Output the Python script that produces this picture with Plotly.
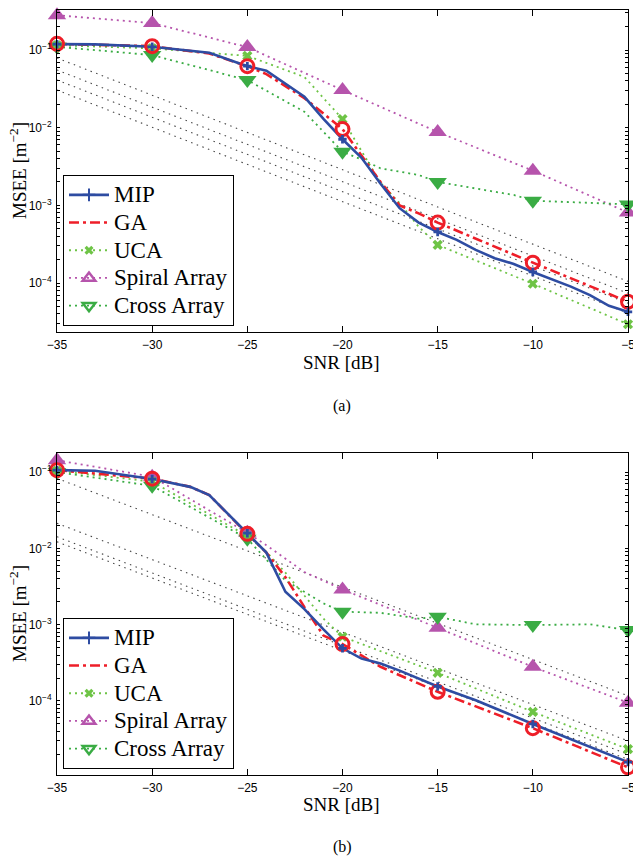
import math
import plotly.graph_objects as go

# ---------------- data ----------------
snr_ticks = [-35, -30, -25, -20, -15, -10, -5]
decade_ticks = [1e-5, 1e-4, 1e-3, 1e-2, 1e-1]
decade_text = ["10<sup>−5</sup>", "10<sup>−4</sup>", "10<sup>−3</sup>", "10<sup>−2</sup>", "10<sup>−1</sup>"]
minor_ticks = [k * d for d in decade_ticks for k in range(2, 10)]

# panel (a)
mip_a_snr = [-35, -33, -30, -27, -25, -24, -22, -21, -20, -19, -18, -17, -16, -15, -14, -13, -12, -11, -10, -9, -8, -7, -6, -5]
mip_a = [0.119, 0.118, 0.11, 0.092, 0.062, 0.054, 0.025, 0.013, 0.0071, 0.0041, 0.0019, 0.00092, 0.0006, 0.000455,
         0.00036, 0.000267, 0.000209, 0.000176, 0.000139, 0.000112, 0.00009, 0.00007, 0.000051, 0.0000426]
ga_a_snr = [-35, -30, -27, -25, -24, -22, -20, -19, -18, -17, -16, -15, -10, -5]
ga_a = [0.12, 0.112, 0.09, 0.062, 0.049, 0.024, 0.0096, 0.0043, 0.0020, 0.0010, 0.00079, 0.0006, 0.000183, 0.0000575]
uca_a_snr = [-35, -30, -25, -22, -20, -18, -17, -16, -15, -10, -5]
uca_a = [0.115, 0.105, 0.084, 0.045, 0.0129, 0.00195, 0.00107, 0.00053, 0.00031, 0.000098, 0.0000295]
spiral_a_snr = [-35, -30, -25, -20, -15, -10, -5]
spiral_a = [0.28, 0.222, 0.109, 0.0305, 0.0088, 0.0028, 0.00081]
cross_a_snr = [-35, -30, -25, -22, -20, -19, -18, -17, -16, -15, -13, -12, -11, -10, -5]
cross_a = [0.11, 0.086, 0.041, 0.016, 0.0049, 0.0039, 0.003, 0.0027, 0.00246, 0.002, 0.00166, 0.0015, 0.00136,
           0.00115, 0.00103]
bound_snr = [-35, -5]
bounds_a = [[0.0789, 0.000105], [0.0553, 0.000074], [0.0411, 0.000055], [0.0305, 0.000041]]

# panel (b)
mip_b_snr = [-35, -33, -30, -28, -27, -25, -24, -23, -22, -21, -20, -19, -18, -17, -16, -15, -13, -10, -5]
mip_b = [0.106, 0.104, 0.081, 0.064, 0.050, 0.0158, 0.0088, 0.0027, 0.0016, 0.00087, 0.00049, 0.00036, 0.00031,
         0.00025, 0.000195, 0.000155, 0.000102, 0.00005, 0.0000158]
ga_b_snr = [-35, -30, -28, -27, -25, -24, -23, -22, -21, -20, -18, -15, -10, -5]
ga_b = [0.106, 0.082, 0.064, 0.050, 0.0155, 0.0088, 0.0042, 0.0017, 0.00072, 0.000557, 0.00028, 0.000132,
        0.000044, 0.0000135]
uca_b_snr = [-35, -30, -25, -24, -23, -22, -21, -20, -15, -10, -5]
uca_b = [0.104, 0.075, 0.0145, 0.009, 0.0048, 0.0024, 0.0012, 0.000695, 0.000234, 0.000072, 0.0000234]
spiral_b_snr = [-35, -30, -25, -24, -22, -20, -15, -10, -5]
spiral_b = [0.143, 0.087, 0.016, 0.011, 0.0049, 0.0029, 0.00091, 0.00028, 0.000095]
cross_b_snr = [-35, -30, -25, -23, -21, -20, -18, -16, -15, -13, -10, -7, -5]
cross_b = [0.10, 0.066, 0.0134, 0.0038, 0.0019, 0.00148, 0.00143, 0.0012, 0.00127, 0.00101, 0.00099, 0.00101,
           0.00085]
bounds_b = [[0.0826, 0.000117], [0.0213, 0.000030], [0.0142, 0.000020], [0.0122, 0.0000172]]

series_names = ["MIP", "GA", "UCA", "Spiral Array", "Cross Array"]

# ---------------- styles ----------------
BLUE = "rgb(46,76,162)"
RED = "rgb(238,30,40)"
LGREEN = "rgb(110,196,70)"
MAG = "rgb(182,84,172)"
GREEN = "rgb(58,172,68)"

styles = {
    "MIP": dict(line=dict(color=BLUE, width=2.6),
                marker=dict(symbol="cross", size=7, color=BLUE),
                lmarker=dict(symbol="cross-thin", size=9, color=BLUE, line=dict(color=BLUE, width=2)), lmode="lines+markers"),
    "GA": dict(line=dict(color=RED, width=2.6, dash="10px,4px,3px,4px"),
               marker=dict(symbol="circle-open", size=13, color=RED, line=dict(color=RED, width=3)),
               lmarker=None, lmode="lines"),
    "UCA": dict(line=dict(color=LGREEN, width=1.8, dash="2px,4px"),
                marker=dict(symbol="x", size=9, color=LGREEN),
                lmarker=dict(symbol="x", size=8, color=LGREEN), lmode="lines+markers"),
    "Spiral Array": dict(line=dict(color=MAG, width=1.8, dash="2px,4px"),
                         marker=dict(symbol="triangle-up", size=16, color=MAG),
                         lmarker=dict(symbol="triangle-up-open", size=11, color=MAG, line=dict(color=MAG, width=2.5)), lmode="lines+markers"),
    "Cross Array": dict(line=dict(color=GREEN, width=1.8, dash="2px,4px"),
                        marker=dict(symbol="triangle-down", size=16, color=GREEN),
                        lmarker=dict(symbol="triangle-down-open", size=11, color=GREEN, line=dict(color=GREEN, width=2.5)), lmode="lines+markers"),
}

LEG_TEXT_PX = 23

fig = go.Figure()


def add_panel(xa, ya, legend, series, bounds):
    for b in bounds:
        fig.add_trace(go.Scatter(x=bound_snr, y=b, mode="lines", xaxis=xa, yaxis=ya, showlegend=False,
                                 line=dict(color="rgb(70,70,70)", width=1.1, dash="1.5px,4.5px"), hoverinfo="skip"))
    order = ["Spiral Array", "Cross Array", "UCA", "GA", "MIP"]
    for name in order:
        xs, ys = series[name]
        st = styles[name]
        fig.add_trace(go.Scatter(x=xs, y=ys, mode="lines", xaxis=xa, yaxis=ya, showlegend=False, line=st["line"]))
    for name in order:
        xs, ys = series[name]
        st = styles[name]
        mx = [x for x in xs if x % 5 == 0]
        my = [y for x, y in zip(xs, ys) if x % 5 == 0]
        fig.add_trace(go.Scatter(x=mx, y=my, mode="markers", xaxis=xa, yaxis=ya, showlegend=False,
                                 marker=st["marker"], cliponaxis=False))
    for name in series_names:
        st = styles[name]
        kw = dict(x=[None], y=[None], mode=st["lmode"], xaxis=xa, yaxis=ya,
                  name=f'<span style="font-size:{LEG_TEXT_PX}px">{name}</span>', legend=legend,
                  line=st["line"])
        if st["lmarker"] is not None:
            kw["marker"] = st["lmarker"]
        fig.add_trace(go.Scatter(**kw))


add_panel("x", "y", "legend", {
    "MIP": (mip_a_snr, mip_a), "GA": (ga_a_snr, ga_a), "UCA": (uca_a_snr, uca_a),
    "Spiral Array": (spiral_a_snr, spiral_a), "Cross Array": (cross_a_snr, cross_a)}, bounds_a)
add_panel("x2", "y2", "legend2", {
    "MIP": (mip_b_snr, mip_b), "GA": (ga_b_snr, ga_b), "UCA": (uca_b_snr, uca_b),
    "Spiral Array": (spiral_b_snr, spiral_b), "Cross Array": (cross_b_snr, cross_b)}, bounds_b)

W, H = 633, 862
X0, X1 = 57, 628
TOP_A, BOT_A = 10, 332
TOP_B, BOT_B = 453, 775
RNG_A = [-4.63, -0.485]
RNG_B = [-4.97, -0.75]

tickfont = dict(family="Liberation Sans, Arial, sans-serif", size=12, color="black")
serif = "Liberation Serif, Times New Roman, serif"


def xaxis_cfg(anchor):
    return dict(domain=[X0 / W, X1 / W], anchor=anchor, range=[-35, -5], tickmode="array", tickvals=snr_ticks,
                ticks="inside", ticklen=6, tickcolor="black", showline=True, linecolor="black", linewidth=1,
                mirror="ticks", showgrid=False, zeroline=False, tickfont=tickfont, automargin=False,
                ticklabeloverflow="allow", ticklabelstandoff=2)


def yaxis_cfg(anchor, top, bot, rng):
    tv = decade_ticks + minor_ticks
    tt = decade_text + [""] * len(minor_ticks)
    return dict(domain=[1 - bot / H, 1 - top / H], anchor=anchor, type="log", range=rng, tickmode="array",
                tickvals=tv, ticktext=tt, ticks="inside", ticklen=3, tickcolor="black",
                showline=True, linecolor="black", linewidth=1, mirror="ticks", showgrid=False, zeroline=False,
                tickfont=tickfont, automargin=False, ticklabeloverflow="allow", ticklabelstandoff=2)


# longer ticks at the decades (left and right edges)
shapes = []
for yref, rng in (("y", RNG_A), ("y2", RNG_B)):
    for d in decade_ticks:
        ly = math.log10(d)
        if rng[0] <= ly <= rng[1]:
            frac = 6 / (X1 - X0)
            for xa0, xa1 in ((0, frac), (1 - frac, 1)):
                shapes.append(dict(type="line", xref=f"x{yref[1:]} domain" if yref != "y" else "x domain",
                                   yref=yref, x0=xa0, x1=xa1, y0=ly, y1=ly,
                                   line=dict(color="black", width=1)))

legend_common = dict(xanchor="left", yanchor="bottom", bgcolor="white", bordercolor="black", borderwidth=1,
                     font=dict(family=serif, size=19, color="black"), tracegroupgap=0, itemwidth=40)


def ann(text, x, y, size, angle=0):
    return dict(text=text, x=x / W, y=1 - y / H, xref="paper", yref="paper", showarrow=False,
                xanchor="center", yanchor="middle", textangle=angle,
                font=dict(family=serif, size=size, color="black"))


fig.update_layout(
    width=W, height=H, margin=dict(l=0, r=0, t=0, b=0, autoexpand=False),
    paper_bgcolor="white", plot_bgcolor="white",
    xaxis=xaxis_cfg("y"), yaxis=yaxis_cfg("x", TOP_A, BOT_A, RNG_A),
    xaxis2=xaxis_cfg("y2"), yaxis2=yaxis_cfg("x2", TOP_B, BOT_B, RNG_B),
    legend=dict(x=63 / W, y=1 - 326 / H, **legend_common),
    legend2=dict(x=63 / W, y=1 - 769 / H, **legend_common),
    shapes=shapes,
    annotations=[
        ann("SNR [dB]", 341, 362, 19),
        ann("SNR [dB]", 341, 804, 19),
        ann("MSEE [m<sup>−2</sup>]", 18, 171, 19, -90),
        ann("MSEE [m<sup>−2</sup>]", 18, 614, 19, -90),
        ann("(a)", 342, 406, 16),
        ann("(b)", 342, 847, 16),
    ],
)

fig.write_html("out.html", config={"displayModeBar": False},
               post_script="document.body.style.margin='0';document.body.style.overflow='hidden';")
